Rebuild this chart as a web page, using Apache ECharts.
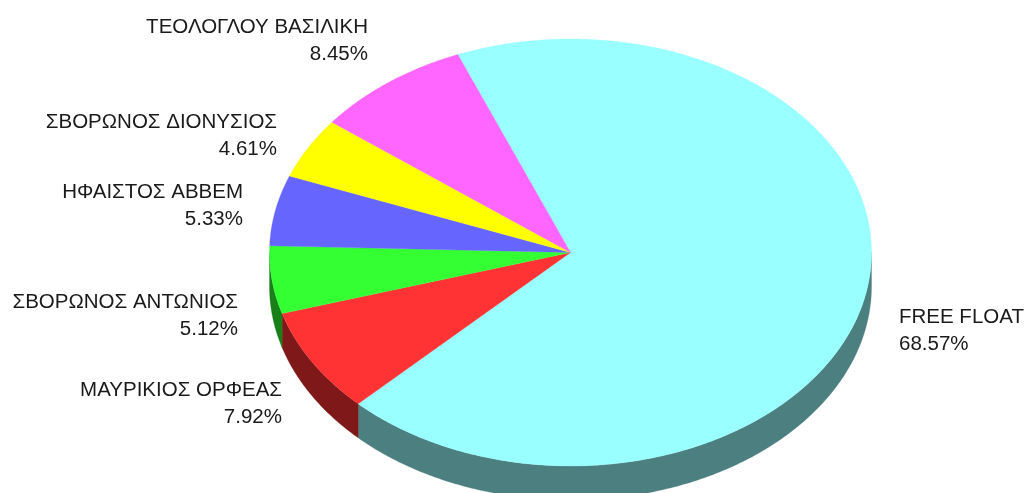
<!DOCTYPE html>
<html>
<head>
<meta charset="utf-8">
<title>Shareholders</title>
<style>
  html, body { margin: 0; padding: 0; background: #fff; }
  #main { width: 1026px; height: 493px; }
</style>
<script src="https://cdn.jsdelivr.net/npm/echarts@6/dist/echarts.min.js"></script>
</head>
<body>
<div id="main"></div>
<script>
// clockwise from the start angle
const holders = ["FREE FLOAT", "ΜΑΥΡΙΚΙΟΣ ΟΡΦΕΑΣ", "ΣΒΟΡΩΝΟΣ ΑΝΤΩΝΙΟΣ", "ΗΦΑΙΣΤΟΣ ΑΒΒΕΜ", "ΣΒΟΡΩΝΟΣ ΔΙΟΝΥΣΙΟΣ", "ΤΕΟΛΟΓΛΟΥ ΒΑΣΙΛΙΚΗ"];
const shares = [68.57, 7.92, 5.12, 5.33, 4.61, 8.45];

const topColors = ["#99ffff", "#ff3333", "#33ff33", "#6666ff", "#ffff00", "#ff66ff"];
const sideColors = ["#4c7f7f", "#7f1919", "#197f19", "#33337f", "#7f7f00", "#7f337f"];

// pie geometry (the page is a fixed size)
const cx = 570.5, cy = 252.5, rx = 301, ry = 213.5, depth = 34;
const startAngle = 338;
const frontFrom = 450, frontTo = 630; // the part of the rim facing the viewer

// label anchors: [x, y of the block middle, align]
const labelPlaces = [
  [899, 331, "left"], [282, 404, "right"], [238, 316, "right"],
  [243, 206, "right"], [277, 136, "right"], [368, 41, "right"]
];

const total = shares.reduce((a, b) => a + b, 0);

function sliceRange(i) {
  let from = startAngle;
  for (let k = 0; k < i; k++) from += shares[k] / total * 360;
  return [from, from + shares[i] / total * 360];
}

function rimPoint(deg, drop) {
  const a = deg * Math.PI / 180;
  return [cx + rx * Math.sin(a), cy - ry * Math.cos(a) + drop];
}

function arc(from, to, drop) {
  const steps = Math.max(2, Math.ceil((to - from) * 2));
  const pts = [];
  for (let s = 0; s <= steps; s++) pts.push(rimPoint(from + (to - from) * s / steps, drop));
  return pts;
}

function renderSide(params) {
  const i = params.dataIndex;
  const r = sliceRange(i);
  const from = Math.max(r[0], frontFrom), to = Math.min(r[1], frontTo);
  if (to <= from) return null;
  const points = arc(from, to, 0).concat(arc(from, to, depth).reverse());
  return {
    type: "polygon",
    shape: { points: points },
    style: { fill: sideColors[i], stroke: sideColors[i], lineWidth: 0.3 }
  };
}

function renderTop(params) {
  const i = params.dataIndex;
  const r = sliceRange(i);
  const points = [[cx, cy]].concat(arc(r[0], r[1], 0));
  return {
    type: "polygon",
    shape: { points: points },
    style: { fill: topColors[i], stroke: topColors[i], lineWidth: 0.3 }
  };
}

function renderLabel(params) {
  const i = params.dataIndex;
  const place = labelPlaces[i];
  return {
    type: "text",
    x: place[0],
    y: place[1],
    style: {
      text: holders[i] + "\n" + shares[i].toFixed(2) + "%",
      fill: "#1a1a1a",
      font: '20.5px "Liberation Sans", Arial, sans-serif',
      lineHeight: 27,
      align: place[2],
      verticalAlign: "middle"
    }
  };
}

const myChart = echarts.init(document.getElementById("main"), null, { renderer: "canvas" });
myChart.setOption({
  animation: false,
  backgroundColor: "#ffffff",
  series: [
    { type: "custom", coordinateSystem: "none", z: 1, data: shares, renderItem: renderSide },
    { type: "custom", coordinateSystem: "none", z: 2, data: shares, renderItem: renderTop },
    { type: "custom", coordinateSystem: "none", z: 3, data: shares, renderItem: renderLabel }
  ]
});
</script>
</body>
</html>
